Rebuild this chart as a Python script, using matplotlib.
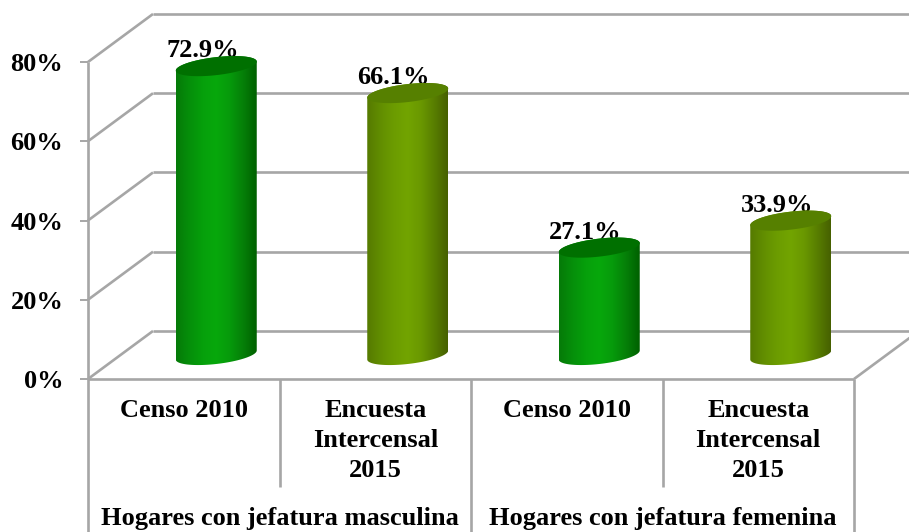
#!/usr/bin/env python3
"""Hogares por jefatura: cilindros 3D simulados sobre ejes normales."""

import numpy as np
import matplotlib
matplotlib.use("Agg")
import matplotlib.pyplot as plt
from matplotlib.colors import LinearSegmentedColormap
from matplotlib.patches import Polygon

W, H = 909, 532

groups = ["Hogares con jefatura masculina", "Hogares con jefatura femenina"]
categories = ["Censo 2010", "Encuesta\nIntercensal\n2015", "Censo 2010", "Encuesta\nIntercensal\n2015"]
values = [72.9, 66.1, 27.1, 33.9]
value_labels = ["72.9%", "66.1%", "27.1%", "33.9%"]
y_ticks = [0, 20, 40, 60, 80]
y_tick_labels = ["0%", "20%", "40%", "60%", "80%"]

GRID = "#A6A6A6"
GREEN_STOPS = ["#057A08", "#058F0A", "#06A00B", "#07A80C", "#069A0B", "#057F08", "#006000"]
OLIVE_STOPS = ["#557A00", "#628E00", "#6C9C00", "#72A400", "#6A9800", "#587E00", "#466000"]
GREEN_TOP = "#007000"
OLIVE_TOP = "#568000"

# pixels per data unit on the front plane
X_PX = 191.5
Y_PX = 3.96
DEPTH_X = 65 / X_PX
DEPTH_Y = 48 / Y_PX
BAR_HALF = 40.5 / X_PX
TILT = 4.5 / Y_PX
MINOR = 9.0 / Y_PX

plt.rcParams["font.family"] = ["Liberation Serif", "DejaVu Serif"]
plt.rcParams["font.weight"] = "bold"
plt.rcParams["font.size"] = 19

fig = plt.figure(figsize=(W / 100, H / 100), dpi=100, facecolor="white")
ax = fig.add_axes([88 / W, 1 - 379 / H, (854 - 88) / W, (379 - 62) / H])
ax.set_xlim(0, 4)
ax.set_ylim(0, 80)
ax.patch.set_visible(False)
for side in ["top", "right", "bottom", "left"]:
    ax.spines[side].set_visible(False)


def line(xs, ys, **kw):
    ax.plot(xs, ys, color=GRID, lw=1.9, clip_on=False, solid_capstyle="butt", zorder=1, **kw)


# walls and gridlines
right_edge = (W - 88) / X_PX
for t in y_ticks:
    line([0, DEPTH_X], [t, t + DEPTH_Y])
    line([DEPTH_X, right_edge], [t + DEPTH_Y, t + DEPTH_Y])
line([0, 4], [0, 0])
line([4, 4 + DEPTH_X], [0, DEPTH_Y])

# table lines under the axis
table_bottom = -(H - 379) / Y_PX
sub_bottom = -108 / Y_PX
line([0, 0], [table_bottom, 80])
line([2, 2], [table_bottom, 0])
line([4, 4], [table_bottom, 0])
line([1, 1], [sub_bottom, 0])
line([3, 3], [sub_bottom, 0])

ax.set_xticks([])
ax.set_yticks(y_ticks, y_tick_labels)
ax.tick_params(axis="y", length=5.8, width=1.4, color=GRID, pad=12)


def ellipse(cx, cy, t):
    return cx + BAR_HALF * np.cos(t), cy + TILT * np.cos(t) + MINOR * np.sin(t)


def cylinder(i, value, stops, top_color):
    cx = i + 0.5 + DEPTH_X / 2
    base = DEPTH_Y / 2
    top = base + value
    # side of the cylinder: upper half of the top ring, lower half of the base ring
    t_top = np.linspace(0, np.pi, 60)
    t_base = np.linspace(np.pi, 2 * np.pi, 60)
    xa, ya = ellipse(cx, top, t_top)
    xb, yb = ellipse(cx, base, t_base)
    outline = np.column_stack([np.r_[xa, xb], np.r_[ya, yb]])
    side = Polygon(outline, closed=True, fc="none", ec="none", transform=ax.transData)
    ax.add_patch(side)
    cmap = LinearSegmentedColormap.from_list("cyl", stops)
    grad = np.linspace(0, 1, 256).reshape(1, -1)
    im = ax.imshow(grad, cmap=cmap, aspect="auto", interpolation="bilinear", zorder=3,
                   extent=[cx - BAR_HALF, cx + BAR_HALF, base - 2 * MINOR, top + 2 * MINOR])
    im.set_clip_path(side)
    im.set_clip_box(fig.bbox)
    # top face
    t = np.linspace(0, 2 * np.pi, 120)
    xe, ye = ellipse(cx, top, t)
    ax.fill(xe, ye, color=top_color, lw=0, zorder=4, clip_on=False)
    # value label sits behind the cap, as in the original
    ax.annotate(value_labels[i], (cx, top), xytext=(-10, 11), textcoords="offset points",
                ha="center", va="center", zorder=2, annotation_clip=False)


for i, v in enumerate(values):
    if i % 2 == 0:
        cylinder(i, v, GREEN_STOPS, GREEN_TOP)
    else:
        cylinder(i, v, OLIVE_STOPS, OLIVE_TOP)

ax.set_xlim(0, 4)
ax.set_ylim(0, 80)

# category and group labels
for i, label in enumerate(categories):
    ax.text(i + 0.5, -20 / Y_PX, label, ha="center", va="top", linespacing=1.4, clip_on=False)
for j, label in enumerate(groups):
    ax.text(2 * j + 1, -139 / Y_PX, label, ha="center", va="center", clip_on=False)

fig.savefig("out.png", dpi=100, facecolor="white")
